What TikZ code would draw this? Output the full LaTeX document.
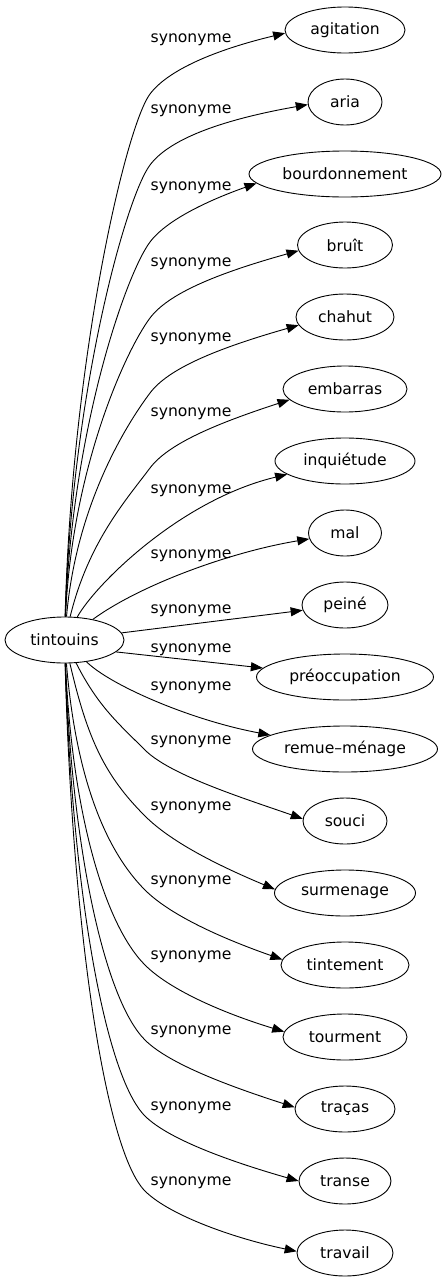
\documentclass[tikz,border=0pt]{standalone}
\usepackage{fontspec}
\setmainfont{DejaVu Sans}
\usetikzlibrary{shapes.geometric,arrows.meta}
\begin{document}
\begin{tikzpicture}[x=1pt,y=-1pt,
  word/.style={draw,ellipse,line width=0.9pt,inner sep=0pt,minimum height=46pt,font=\fontsize{15.6}{18}\selectfont},
  syn/.style={inner sep=0pt,font=\fontsize{15.6}{18}\selectfont},
  rel/.style={-{Triangle[length=12pt,width=9pt]},line width=0.9pt}]
\useasboundingbox (0,0) rectangle (446,1283);
\node[word,minimum width=119pt] (t) at (64.5,640) {tintouins};
\foreach \n/\txt/\w/\yn in {agit/agitation/120pt/30, aria/aria/74pt/102, bourd/bourdonnement/192pt/174,
  bruit/bruît/95pt/245, chahut/chahut/98pt/317, embar/embarras/124pt/389, inqui/inquiétude/140pt/461,
  mal/mal/73pt/533, peine/peiné/86pt/605, preoc/préoccupation/177pt/677, remue/remue--ménage/185pt/749,
  souci/souci/84pt/821, surm/surmenage/141pt/893, tint/tintement/128pt/965, tourm/tourment/124pt/1037,
  tracas/traças/100pt/1109, transe/transe/92pt/1181, travail/travail/96pt/1253}
  \node[word,minimum width=\w] (\n) at (345,\yn) {\txt};
% labels
\foreach \yl [count=\i] in {38,109,186,262,337,412,489,554,609,648,686,740,806,880,955,1030,1106,1181}
  \node[syn] (s\i) at (191,\yl+1.5) {synonyme};
% upper edges
\foreach \n/\yl/\ang in {agit/38/183, aria/109/184, bourd/186/186, bruit/262/187,
  chahut/337/190, embar/412/191}{
  \pgfmathsetmacro\py{\yl+56}
  \pgfmathsetmacro\cy{617-0.5*(617-\py)}
  \pgfmathsetmacro\cx{72+40*max(0,1-(617-\py)/250)}
  \pgfmathsetmacro\a{min(0.3*(617-\py),40)}
  \draw[rel] (t) .. controls (\cx,\cy) and (150-0.6*\a,\py+0.8*\a) .. (150,\py)
    .. controls (168,\py-24) and (215,\yl+12) .. (\n.\ang);
}
\draw[rel] (t) .. controls (95,585) and (180,500) .. (inqui.193);
\draw[rel] (t) .. controls (140,585) and (230,552) .. (mal);
\draw[rel] (t) -- (peine);
\draw[rel] (t.-13) -- (preoc);
\draw[rel] (t) .. controls (110,685) and (190,720) .. (remue);
% lower edges
\foreach \n/\yl/\xw/\ang in {souci/740/303/177, surm/806/274.5/177, tint/880/281/175, tourm/955/283/175,
  tracas/1030/295/178, transe/1106/299/180, travail/1181/297/178}{
  \pgfmathsetmacro\py{\yl+10}
  \pgfmathsetmacro\cy{663+0.5*(\py-663)}
  \pgfmathsetmacro\cx{72+40*max(0,1-(\py-663)/250)}
  \pgfmathsetmacro\a{min(0.3*(\py-663),40)}
  \draw[rel] (t) .. controls (\cx,\cy) and (145-\a,\py-\a) .. (145,\py)
    .. controls (170,\py+25) and (\xw-60,\yl+58) .. (\n.\ang);
}
\end{tikzpicture}
\end{document}
